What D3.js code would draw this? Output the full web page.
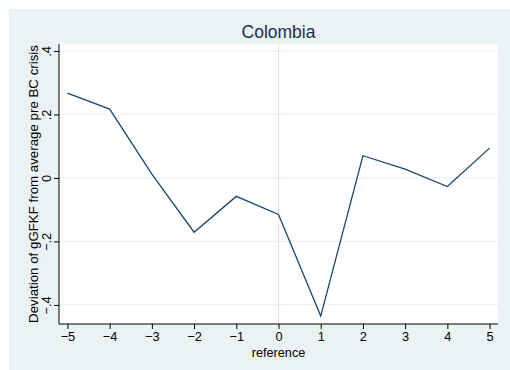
<!DOCTYPE html>
<html>
<head>
<meta charset="utf-8">
<script src="https://cdn.jsdelivr.net/npm/d3@7"></script>
<style>
  body { margin: 0; background: #fff; }
  text { font-family: "Liberation Sans", Arial, sans-serif; }
</style>
</head>
<body>
<div id="chart"></div>
<script>
var title = 'Colombia',
    xTitle = 'reference',
    yTitle = 'Deviation of gGFKF from average pre BC crisis';

var reference = [-5, -4, -3, -2, -1, 0, 1, 2, 3, 4, 5];
var deviation = [0.267, 0.217, 0.012, -0.171, -0.058, -0.115, -0.435, 0.070, 0.028, -0.027, 0.094];
var xTicks = [-5, -4, -3, -2, -1, 0, 1, 2, 3, 4, 5];
var yTicks = [-0.4, -0.2, 0, 0.2, 0.4];

var width = 510, height = 370;
var plot = {left: 59, right: 498, top: 44, bottom: 324};

var svg = d3.select('#chart').append('svg')
  .attr('width', width)
  .attr('height', height);

// outer background
svg.append('rect')
  .attr('x', 9).attr('y', 9)
  .attr('width', width - 9).attr('height', height - 9)
  .attr('fill', '#eaf2f3');

svg.append('rect')
  .attr('x', plot.left).attr('y', plot.top)
  .attr('width', plot.right - plot.left).attr('height', plot.bottom - plot.top)
  .attr('fill', '#fff');

var x = d3.scaleLinear().domain([-5.2, 5.2]).range([plot.left, plot.right]);
var y = d3.scaleLinear().domain([-0.46, 0.422]).range([plot.bottom, plot.top]);

function fmtY(d){
  var s = d3.format('.1f')(Math.abs(d)).replace(/^0\./, '.');
  if (d === 0) return '0';
  return (d < 0 ? '\u2212' : '') + s;
}

// grid
svg.append('g').selectAll('line')
  .data(yTicks)
  .enter().append('line')
  .attr('x1', plot.left).attr('x2', plot.right)
  .attr('y1', function(d){ return y(d); })
  .attr('y2', function(d){ return y(d); })
  .attr('stroke', '#eaf2f3')
  .attr('stroke-width', 1.2);

// reference line at 0
svg.append('line')
  .attr('x1', x(0)).attr('x2', x(0))
  .attr('y1', plot.top).attr('y2', plot.bottom)
  .attr('stroke', '#eeb4c4')
  .attr('stroke-width', 1)
  .attr('stroke-dasharray', '1,1');

// series
var line = d3.line()
  .x(function(d, i){ return x(reference[i]); })
  .y(function(d){ return y(d); });

svg.append('path')
  .datum(deviation)
  .attr('d', line)
  .attr('fill', 'none')
  .attr('stroke', '#1a476f')
  .attr('stroke-width', 1.3);

// x axis
var xAxis = svg.append('g')
  .attr('transform', 'translate(0,' + plot.bottom + ')')
  .call(d3.axisBottom(x).tickValues(xTicks).tickSize(5).tickPadding(3)
    .tickFormat(function(d){ return (d < 0 ? '\u2212' : '') + Math.abs(d); }));
xAxis.select('.domain').attr('d', 'M' + plot.left + ',0H' + plot.right).attr('stroke', '#000');
xAxis.selectAll('text').attr('font-size', 12.8).attr('fill', '#000')
  .style('font-family', '"Liberation Sans", Arial, sans-serif');

// y axis
var yAxis = svg.append('g')
  .attr('transform', 'translate(' + plot.left + ',0)')
  .call(d3.axisLeft(y).tickValues(yTicks).tickSize(5).tickFormat(fmtY));
yAxis.select('.domain').attr('d', 'M0,' + plot.bottom + 'V' + plot.top).attr('stroke', '#000');
yAxis.selectAll('text')
  .attr('font-size', 12.8).attr('fill', '#000')
  .attr('x', null).attr('dy', null)
  .attr('text-anchor', 'middle')
  .attr('transform', 'translate(-8,0) rotate(-90)')
  .style('font-family', '"Liberation Sans", Arial, sans-serif');

// titles
svg.append('text')
  .attr('x', (plot.left + plot.right) / 2)
  .attr('y', 38)
  .attr('text-anchor', 'middle')
  .attr('font-size', 17.5)
  .attr('fill', '#1e2d4f')
  .text(title);

svg.append('text')
  .attr('x', (plot.left + plot.right) / 2)
  .attr('y', 357)
  .attr('text-anchor', 'middle')
  .attr('font-size', 12.7)
  .attr('fill', '#000')
  .text(xTitle);

svg.append('text')
  .attr('transform', 'translate(38,' + ((plot.top + plot.bottom) / 2) + ') rotate(-90)')
  .attr('text-anchor', 'middle')
  .attr('font-size', 13.3)
  .attr('fill', '#000')
  .text(yTitle);
</script>
</body>
</html>
